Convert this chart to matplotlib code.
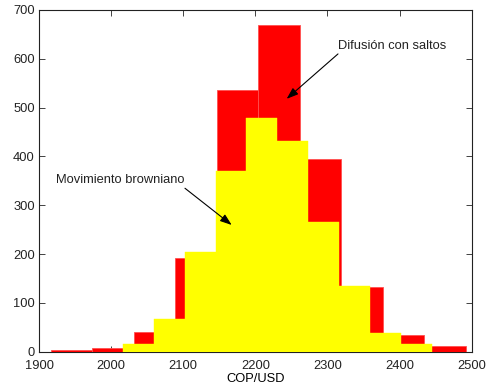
import matplotlib
matplotlib.use("Agg")
import matplotlib.pyplot as plt
import numpy as np

plt.rcParams['font.family'] = ['Liberation Sans', 'DejaVu Sans']

# Jump diffusion histogram (red): 10 bins
red_edges_lo = 1916.6
red_edges_hi = 2491.7
red_counts = [3, 8, 40, 191, 536, 669, 395, 133, 35, 11]

# Brownian motion histogram (yellow): 10 bins
yel_edges_lo = 2016.5
yel_edges_hi = 2444.5
yel_counts = [16, 66, 204, 371, 479, 432, 265, 135, 38, 16]

xticks = [1900, 2000, 2100, 2200, 2300, 2400, 2500]
yticks = [0, 100, 200, 300, 400, 500, 600, 700]

fig = plt.figure(figsize=(4.89, 3.89), dpi=100)
ax = fig.add_axes([0.0798, 0.0959, 0.8848, 0.8784])

red_edges = np.linspace(red_edges_lo, red_edges_hi, len(red_counts) + 1)
yel_edges = np.linspace(yel_edges_lo, yel_edges_hi, len(yel_counts) + 1)

ax.bar(red_edges[:-1], red_counts, width=np.diff(red_edges), align='edge',
       color='#ff0000', edgecolor='#ff5050', linewidth=0.6, zorder=3)
ax.bar(yel_edges[:-1], yel_counts, width=np.diff(yel_edges), align='edge',
       color='#ffff00', edgecolor='#ffff00', linewidth=0.3, zorder=4)

ax.set_xlim(1900, 2500)
ax.set_ylim(0, 700)
ax.set_xticks(xticks)
ax.set_yticks(yticks)
ax.tick_params(direction='in', top=True, right=True, length=4, width=0.6,
               labelsize=9.3, colors='#222222')
ax.tick_params(axis='x', pad=6)
ax.tick_params(axis='y', pad=3)
for s in ax.spines.values():
    s.set_linewidth(0.8)
    s.set_color('#222222')
ax.spines['bottom'].set_zorder(2)
ax.set_xlabel('COP/USD', fontsize=9.3, labelpad=1)

arrow_kw = dict(arrowstyle='-|>,head_length=0.7,head_width=0.25',
                color='black', lw=0.8, shrinkA=0, shrinkB=0)
ax.text(2314.6, 627, 'Difusión con saltos', fontsize=9.3, ha='left',
        va='center', color='#222222', zorder=6)
ax.annotate('', xy=(2243.4, 518), xytext=(2314.6, 610),
            arrowprops=dict(**arrow_kw), zorder=6)
ax.text(1923, 352, 'Movimiento browniano', fontsize=9.3, ha='left',
        va='center', color='#222222', zorder=6)
ax.annotate('', xy=(2167.2, 259.6), xytext=(2102.4, 334.8),
            arrowprops=dict(**arrow_kw), zorder=6)

fig.savefig('out.png', dpi=100)
